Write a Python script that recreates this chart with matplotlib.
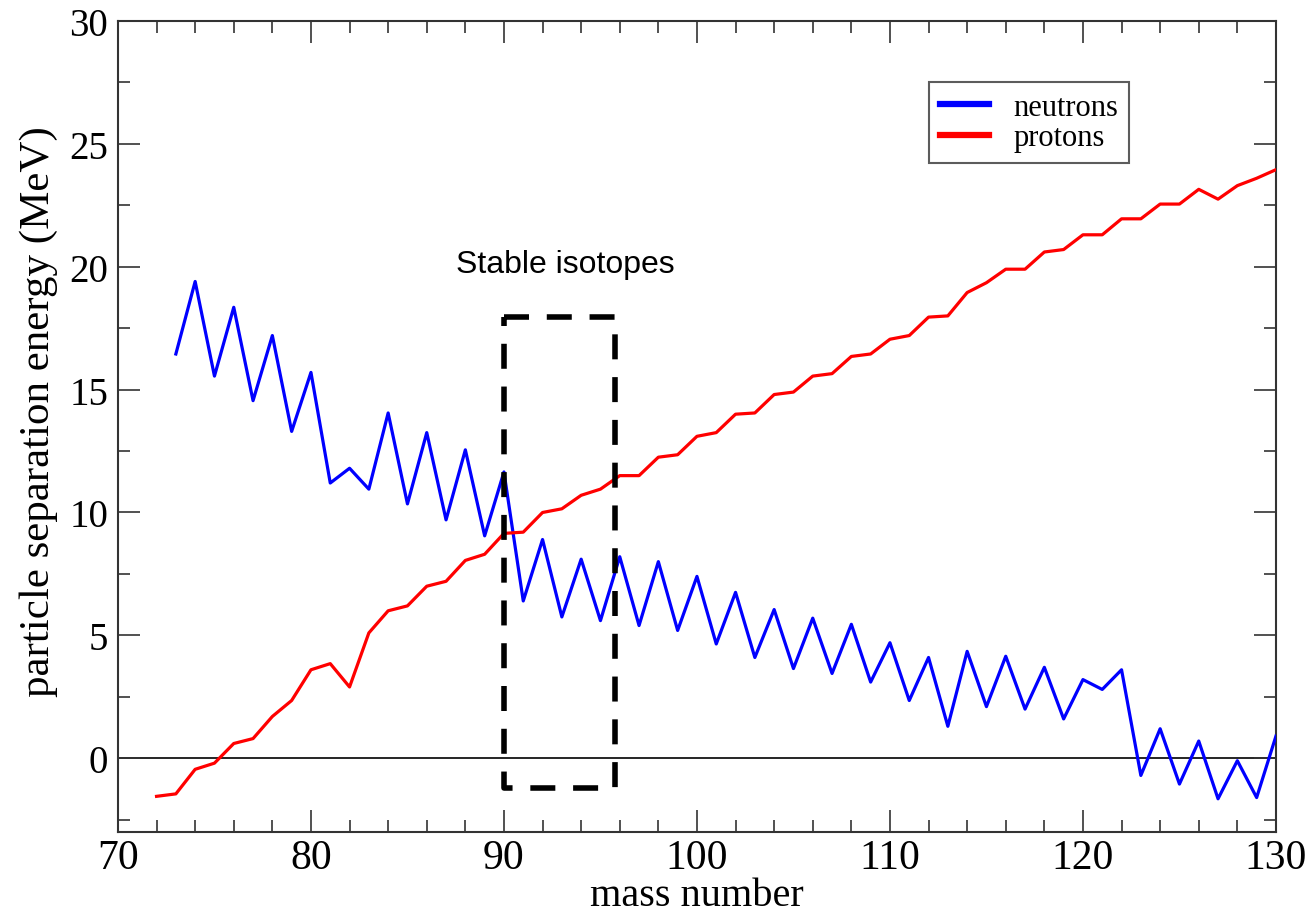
import matplotlib
matplotlib.use("Agg")
import matplotlib.pyplot as plt
from matplotlib.ticker import MultipleLocator

# ---- data ----
neutron_A = list(range(73, 131))
neutron_S = [16.45, 19.4, 15.55, 18.35, 14.55, 17.2, 13.3, 15.7, 11.2, 11.8, 10.95,
             14.05, 10.35, 13.25, 9.7, 12.55, 9.05, 11.65,
             6.4, 8.9, 5.75, 8.1, 5.6, 8.2, 5.4, 8.0, 5.2, 7.4, 4.65, 6.75, 4.1, 6.05,
             3.65, 5.7, 3.45, 5.45, 3.1,
             4.7, 2.35, 4.1, 1.3, 4.35, 2.1, 4.15, 2.0, 3.7, 1.6, 3.2, 2.8, 3.6,
             -0.7, 1.2, -1.05, 0.7, -1.65, -0.1, -1.6, 0.9]

proton_A = list(range(72, 131))
proton_S = [-1.55, -1.45, -0.45, -0.2, 0.6, 0.8, 1.7, 2.35, 3.6, 3.85, 2.9, 5.1,
            6.0, 6.2, 7.0, 7.2, 8.05, 8.3, 9.15, 9.2, 10.0, 10.15, 10.7, 10.95,
            11.5, 11.5, 12.25, 12.35, 13.1, 13.25, 14.0, 14.05, 14.8, 14.9,
            15.55, 15.65, 16.35, 16.45, 17.05, 17.2, 17.95, 18.0, 18.95, 19.35,
            19.9, 19.9, 20.6, 20.7, 21.3, 21.3, 21.95, 21.95, 22.55, 22.55,
            23.15, 22.75, 23.3, 23.6, 23.95]

box_A = [90, 95.75]
box_S = [-1.2, 17.95]

plt.rcParams['font.family'] = ['Liberation Serif', 'DejaVu Serif']

fig = plt.figure(figsize=(13.15, 9.2), dpi=100)
ax = fig.add_axes([0.0897, 0.0946, 0.9703 - 0.0897, 0.9761 - 0.0946])

ax.axhline(0, color='black', lw=1.2, zorder=1)
ax.plot(neutron_A, neutron_S, color='#0000ff', lw=2.3, label='neutrons', zorder=3)
ax.plot(proton_A, proton_S, color='#ff0000', lw=2.3, label='protons', zorder=3)

ax.plot([box_A[0], box_A[1], box_A[1], box_A[0], box_A[0]],
        [box_S[1], box_S[1], box_S[0], box_S[0], box_S[1]],
        color='black', lw=4, dashes=(4.5, 3.2), zorder=4)

ax.text(93.2, 20.1, 'Stable isotopes', fontsize=23, family=['Liberation Sans', 'DejaVu Sans'],
        ha='center', va='center')

ax.set_xlim(70, 130)
ax.set_ylim(-3, 30)
ax.xaxis.set_major_locator(MultipleLocator(10))
ax.xaxis.set_minor_locator(MultipleLocator(2))
ax.yaxis.set_major_locator(MultipleLocator(5))
ax.yaxis.set_minor_locator(MultipleLocator(2.5))
ax.tick_params(which='both', direction='in', top=True, right=True, color='#333333', width=1.2)
ax.tick_params(which='major', length=16)
ax.tick_params(which='minor', length=8.5)
ax.tick_params(axis='x', which='major', labelsize=30, pad=5)
ax.tick_params(axis='y', which='major', labelsize=28, pad=7)
for s in ax.spines.values():
    s.set_color('#333333')
    s.set_linewidth(1.5)

ax.set_xlabel('mass number', fontsize=29, labelpad=0)
ax.set_ylabel('particle separation energy (MeV)', fontsize=31, labelpad=6)
ax.yaxis.set_label_coords(-0.0515, 0.519)

leg = ax.legend(loc='upper left', bbox_to_anchor=(0.7005, 0.9245), fontsize=22,
                frameon=True, fancybox=False, edgecolor='#333333', handlelength=1.6,
                handletextpad=0.8, borderpad=0.35, labelspacing=0.05, borderaxespad=0)
leg.get_frame().set_linewidth(1.5)
for line in leg.get_lines():
    line.set_linewidth(4.5)

fig.savefig('out.png', dpi=100)
